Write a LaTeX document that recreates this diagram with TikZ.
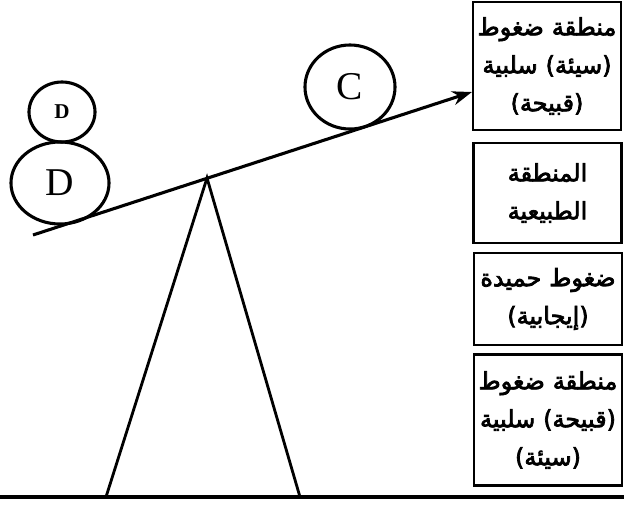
\documentclass[tikz,border=0pt]{standalone}
\usepackage{fontspec}
\usetikzlibrary{shapes.geometric,arrows.meta}
\newfontfamily\arabicfont[Script=Arabic,AutoFakeBold=3]{DejaVu Sans}
\newfontfamily\ballfont{Liberation Serif}
\TeXXeTstate=1
\begin{document}
\begin{tikzpicture}[x=0.025cm, y=-0.025cm, >={Stealth[length=14pt,width=10pt]},
  zone/.style={draw, line width=1.5pt, minimum width=3.7cm, text width=3.6cm, align=center,
    font=\arabicfont\bfseries\fontsize{17}{27}\selectfont, inner sep=0pt},
  ball/.style={draw, ellipse, line width=2.2pt, inner sep=0pt, font=\ballfont\fontsize{28}{30}\selectfont}]
\useasboundingbox (0,0) rectangle (624,507);
\node[zone, minimum height=3.2cm] (zoneA) at (547,66) {\beginR منطقة ضغوط\endR\\\beginR (سيئة) سلبية\endR\\\beginR (قبيحة)\endR};
\node[zone, minimum height=2.5cm] (zoneB) at (547.5,193) {\beginR المنطقة\endR\\\beginR الطبيعية\endR};
\node[zone, minimum height=2.3cm] (zoneC) at (548,299) {\beginR ضغوط حميدة\endR\\\beginR (إيجابية)\endR};
\node[zone, minimum height=3.275cm] (zoneD) at (548,420) {\beginR منطقة ضغوط\endR\\\beginR (قبيحة) سلبية\endR\\\beginR (سيئة)\endR};
\coordinate (beamL) at (33,235);
\coordinate (apex) at (207,178);
\coordinate (footL) at (106,497);
\coordinate (footR) at (300,497);
\coordinate (groundL) at (0,497);
\coordinate (groundR) at (624,497);
\node[ball, minimum width=2.45cm, minimum height=2.05cm] (bigD) at (60,183) {D};
\node[ball, minimum width=1.65cm, minimum height=1.5cm, font=\ballfont\bfseries\fontsize{15}{17}\selectfont] (smallD) at (62,112) {D};
\node[ball, minimum width=2.25cm, minimum height=2.1cm] (ballC) at (350,87) {C};
\draw[->, line width=2.2pt] (beamL) -- (zoneA.west |- 0,92);
\draw[line width=2pt] (footL) -- (apex) -- (footR);
\draw[line width=2.2pt] (groundL) -- (groundR);
\end{tikzpicture}
\end{document}
